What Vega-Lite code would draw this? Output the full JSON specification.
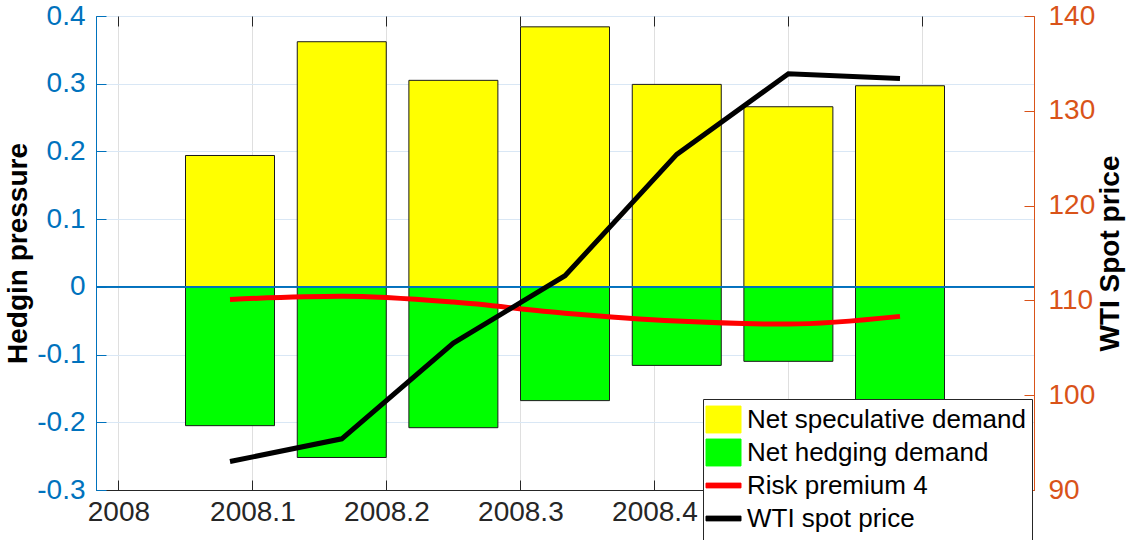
{
  "$schema": "https://vega.github.io/schema/vega-lite/v6.json",
  "autosize": {"type": "none"},
  "padding": {"left": 96, "top": 16, "right": 100, "bottom": 50},
  "width": 938,
  "height": 474,
  "background": "white",
  "config": {
    "view": {"stroke": "#262626", "strokeWidth": 1},
    "font": "Liberation Sans",
    "axis": {"labelFont": "Liberation Sans", "titleFont": "Liberation Sans"}
  },
  "datasets": {
    "bars": [
      {"t": 2008.0833, "series": "Net speculative demand", "value": 0.194},
      {"t": 2008.1667, "series": "Net speculative demand", "value": 0.362},
      {"t": 2008.25, "series": "Net speculative demand", "value": 0.305},
      {"t": 2008.3333, "series": "Net speculative demand", "value": 0.384},
      {"t": 2008.4167, "series": "Net speculative demand", "value": 0.299},
      {"t": 2008.5, "series": "Net speculative demand", "value": 0.266},
      {"t": 2008.5833, "series": "Net speculative demand", "value": 0.297},
      {"t": 2008.0833, "series": "Net hedging demand", "value": -0.205},
      {"t": 2008.1667, "series": "Net hedging demand", "value": -0.252},
      {"t": 2008.25, "series": "Net hedging demand", "value": -0.208},
      {"t": 2008.3333, "series": "Net hedging demand", "value": -0.168},
      {"t": 2008.4167, "series": "Net hedging demand", "value": -0.116},
      {"t": 2008.5, "series": "Net hedging demand", "value": -0.110},
      {"t": 2008.5833, "series": "Net hedging demand", "value": -0.23}
    ],
    "lines": [
      {"t": 2008.0833, "risk": -0.0185, "wti": 93.0},
      {"t": 2008.1667, "risk": -0.014, "wti": 95.4},
      {"t": 2008.25, "risk": -0.0225, "wti": 105.5},
      {"t": 2008.3333, "risk": -0.039, "wti": 112.6},
      {"t": 2008.4167, "risk": -0.0505, "wti": 125.4},
      {"t": 2008.5, "risk": -0.055, "wti": 133.9},
      {"t": 2008.5833, "risk": -0.0436, "wti": 133.4}
    ]
  },
  "layer": [
    {
      "layer": [
        {
          "data": {"name": "bars"},
          "mark": {"type": "bar", "width": 89, "stroke": "#1a1a1a", "strokeWidth": 1},
          "encoding": {
            "x": {
              "field": "t", "type": "quantitative",
              "scale": {"domain": [2007.9833, 2008.6833], "nice": false, "zero": false, "padding": 0},
              "axis": {
                "values": [2008, 2008.1, 2008.2, 2008.3, 2008.4, 2008.5, 2008.6],
                "format": ".1~f",
                "title": null,
                "labelFontSize": 28,
                "labelColor": "#262626",
                "labelPadding": 18,
                "labelFlush": false,
                "labelOverlap": false,
                "tickColor": "#262626",
                "tickSize": -10,
                "domainColor": "#262626",
                "grid": true,
                "gridColor": "#dfdfdf"
              }
            },
            "y": {
              "field": "value", "type": "quantitative", "stack": null,
              "scale": {"domain": [-0.3, 0.4], "nice": false},
              "axis": {
                "values": [-0.3, -0.2, -0.1, 0, 0.1, 0.2, 0.3, 0.4],
                "format": ".1~f",
                "labelExpr": "replace(datum.label, '\u2212', '-')",
                "labelFontSize": 28,
                "labelColor": "#0072BD",
                "labelPadding": 21,
                "tickColor": "#0072BD",
                "tickSize": -10,
                "domainColor": "#0072BD",
                "grid": true,
                "gridColor": "#d9e7f5",
                "title": "Hedgin pressure",
                "titleFontSize": 28,
                "titleFontWeight": "bold",
                "titleColor": "#000000",
                "titlePadding": 4
              }
            },
            "color": {
              "field": "series", "type": "nominal",
              "scale": {
                "domain": ["Net speculative demand", "Net hedging demand", "Risk premium 4", "WTI spot price"],
                "range": ["#FFFF00", "#00FF00", "#FF0000", "#000000"]
              },
              "legend": {
                "title": null,
                "orient": "none",
                "legendX": 607,
                "legendY": 383,
                "fillColor": "white",
                "strokeColor": "#262626",
                "padding": 6,
                "labelFont": "Liberation Sans",
                "labelFontSize": 26,
                "labelColor": "#000000",
                "labelLimit": 400,
                "labelOffset": 9,
                "symbolSize": 784,
                "rowPadding": 2,
                "zindex": 5,
                "encoding": {
                  "symbols": {
                    "shape": {"value": {"expr": "(datum.value === 'Net speculative demand' || datum.value === 'Net hedging demand') ? 'M-1.25,-0.96H1.25V0.96H-1.25Z' : 'M-1.25,-0.96M-1.25,-0.17H1.25V0.17H-1.25ZM1.25,0.96'"}},
                    "fill": {"value": {"expr": "datum.value === 'Net speculative demand' ? '#FFFF00' : (datum.value === 'Net hedging demand' ? '#00FF00' : (datum.value === 'Risk premium 4' ? '#FF0000' : '#000000'))"}},
                    "stroke": {"value": {"expr": "datum.value === 'Risk premium 4' ? '#FF0000' : (datum.value === 'WTI spot price' ? '#000000' : '#333333')"}},
                    "strokeWidth": {"value": 1},
                    "opacity": {"value": 1}
                  }
                }
              }
            }
          }
        },
        {
          "data": {"name": "lines"},
          "mark": {"type": "rule", "color": "#0072BD", "strokeWidth": 1},
          "encoding": {
            "y": {"datum": 0, "type": "quantitative", "scale": {"domain": [-0.3, 0.4], "nice": false}}
          }
        },
        {
          "data": {"name": "lines"},
          "mark": {"type": "line", "strokeWidth": 5, "interpolate": "monotone", "strokeCap": "butt"},
          "encoding": {
            "x": {"field": "t", "type": "quantitative"},
            "y": {"field": "risk", "type": "quantitative", "scale": {"domain": [-0.3, 0.4], "nice": false}},
            "color": {"datum": "Risk premium 4"}
          }
        }
      ]
    },
    {
      "data": {"name": "lines"},
      "mark": {"type": "line", "strokeWidth": 5, "strokeCap": "butt"},
      "encoding": {
        "x": {
          "field": "t", "type": "quantitative",
          "axis": {
            "orient": "top",
            "values": [2008, 2008.1, 2008.2, 2008.3, 2008.4, 2008.5, 2008.6],
            "labels": false,
            "title": null,
            "domain": false,
            "grid": false,
            "tickColor": "#262626",
            "tickSize": -10
          }
        },
        "y": {
          "field": "wti", "type": "quantitative",
          "scale": {"domain": [90, 140], "nice": false, "zero": false},
          "axis": {
            "orient": "right",
            "values": [90, 100, 110, 120, 130, 140],
            "labelFontSize": 28,
            "labelColor": "#D95319",
            "labelPadding": 24,
            "tickColor": "#D95319",
            "tickSize": -10,
            "domainColor": "#D95319",
            "grid": false,
            "title": "WTI Spot price",
            "titleAngle": 270,
            "titleFontSize": 28,
            "titleFontWeight": "bold",
            "titleColor": "#000000",
            "titlePadding": 30
          }
        },
        "color": {"datum": "WTI spot price"}
      }
    }
  ],
  "resolve": {"scale": {"y": "independent"}, "axis": {"x": "independent"}}
}
